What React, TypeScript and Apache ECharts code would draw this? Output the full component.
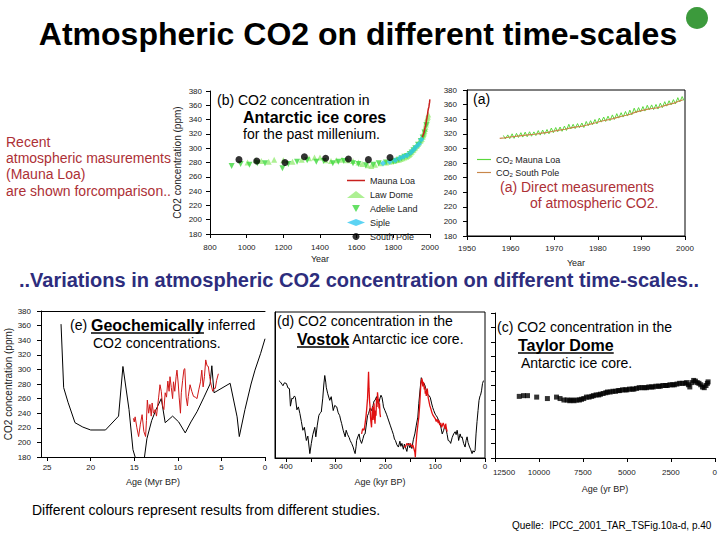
import React, { useEffect, useRef } from "react";
import * as echarts from "echarts";

const FF = '"Liberation Sans", Arial, sans-serif';

// ---------- (b) ice cores of the past millennium ----------
const lawDome: number[][] = [
  [1005, 280], [1050, 283], [1080, 282], [1120, 281], [1150, 284], [1200, 283], [1250, 281], [1300, 284],
  [1340, 286], [1370, 287], [1400, 287], [1430, 283], [1460, 282], [1490, 283], [1520, 284], [1550, 283],
  [1580, 282], [1610, 280], [1630, 278], [1660, 276], [1680, 275], [1700, 277], [1730, 279], [1760, 280],
  [1780, 281], [1800, 282], [1810, 283], [1820, 284], [1830, 284], [1840, 285], [1850, 286], [1860, 287],
  [1870, 288], [1875, 289], [1880, 290], [1885, 291], [1890, 292], [1895, 294], [1900, 295], [1905, 297],
  [1910, 298], [1915, 300], [1920, 301], [1925, 303], [1930, 304], [1935, 306], [1940, 308], [1945, 310],
  [1950, 311], [1955, 313], [1960, 316], [1963, 318], [1965, 320], [1968, 322], [1970, 324], [1973, 327],
  [1975, 330], [1978, 333], [1980, 336], [1983, 339], [1985, 342], [1988, 344], [1990, 347],
];
const adelieLand: number[][] = [
  [918, 275], [967, 278], [1015, 277], [1058, 279], [1100, 279], [1195, 272], [1227, 278], [1275, 281],
  [1330, 283], [1380, 281], [1420, 282], [1470, 279], [1500, 281], [1530, 282], [1580, 279], [1610, 278],
  [1650, 276], [1690, 277], [1720, 279], [1760, 280], [1800, 281], [1815, 282], [1830, 284], [1845, 286],
  [1860, 288], [1875, 289], [1890, 292], [1900, 294], [1910, 297], [1920, 300], [1935, 305], [1950, 310],
  [1960, 315], [1970, 322], [1980, 332],
];
const siple: number[][] = [
  [1744, 279], [1780, 281], [1810, 283], [1835, 286], [1855, 288], [1875, 290], [1895, 294], [1910, 298],
  [1925, 302], [1940, 306], [1953, 312],
];
const southPoleCore: number[][] = [
  [958, 284], [1055, 282], [1209, 280], [1315, 288], [1431, 286], [1555, 285], [1664, 284], [1782, 287],
];

// ---------- (a) direct measurements ----------
const mloYears = [
  1958, 1959, 1960, 1961, 1962, 1963, 1964, 1965, 1966, 1967, 1968, 1969, 1970, 1971, 1972, 1973, 1974,
  1975, 1976, 1977, 1978, 1979, 1980, 1981, 1982, 1983, 1984, 1985, 1986, 1987, 1988, 1989, 1990, 1991,
  1992, 1993, 1994, 1995, 1996, 1997, 1998, 1999,
];
const mloMean = [
  315.3, 316.0, 316.9, 317.6, 318.5, 319.0, 319.6, 320.0, 321.3, 322.2, 323.0, 324.6, 325.7, 326.3, 327.5,
  329.7, 330.2, 331.1, 332.0, 333.8, 335.4, 336.8, 338.7, 339.9, 341.1, 342.8, 344.4, 345.9, 347.2, 348.9,
  351.5, 352.9, 354.2, 355.6, 356.4, 357.1, 358.8, 360.8, 362.6, 363.7, 366.7, 368.4,
];
const mloPeak = [
  317.7, 318.5, 320.0, 320.6, 321.5, 322.3, 322.8, 322.6, 324.4, 325.1, 325.9, 327.9, 328.6, 329.3, 330.6,
  333.0, 333.0, 334.0, 334.8, 336.9, 338.0, 339.6, 341.5, 343.0, 344.2, 345.9, 347.6, 348.9, 350.6, 352.4,
  355.1, 355.9, 357.3, 359.1, 359.6, 360.2, 362.0, 364.0, 365.3, 366.8, 369.5, 371.0,
];
const mloTrough = [
  312.9, 313.4, 313.8, 315.0, 315.5, 316.0, 316.7, 317.6, 318.2, 319.3, 320.0, 321.5, 322.8, 323.4, 324.6,
  326.6, 327.1, 328.4, 328.6, 331.0, 332.5, 333.5, 336.0, 336.9, 338.0, 339.6, 341.5, 342.9, 344.3, 346.0,
  348.5, 349.8, 351.1, 352.8, 353.1, 353.9, 355.8, 357.9, 359.5, 360.8, 363.6, 365.3,
];
const spoYears = [
  1957, 1958, 1959, 1960, 1961, 1962, 1963, 1964, 1965, 1966, 1967, 1968, 1969, 1970, 1971, 1972, 1973,
  1974, 1975, 1976, 1977, 1978, 1979, 1980, 1981, 1982, 1983, 1984, 1985, 1986, 1987, 1988, 1989, 1990,
  1991, 1992, 1993, 1994, 1995, 1996, 1997, 1998, 1999,
];
const spoValues = [
  313.8, 314.5, 315.3, 316.0, 316.8, 317.5, 318.2, 318.9, 319.4, 320.3, 321.2, 322.0, 323.2, 324.4, 325.3,
  326.2, 327.8, 328.9, 329.7, 330.6, 332.1, 333.7, 335.1, 336.9, 338.2, 339.4, 340.8, 342.5, 344.0, 345.4,
  347.0, 349.3, 351.0, 352.4, 353.8, 354.7, 355.6, 357.0, 359.0, 360.7, 362.0, 364.6, 366.4,
];

// ---------- (e) geochemically inferred (Myr BP) ----------
const geoBlack: number[][] = [
  [23.4, 362], [23.1, 275], [22.6, 255], [21.8, 227], [20.9, 221], [20.0, 217], [18.3, 217], [16.8, 236],
  [16.3, 304], [15.6, 245], [15.15, 190], [14.6, 168], [13.85, 178], [13.55, 205], [13.0, 230], [12.5, 245],
  [11.9, 260], [11.45, 227], [10.6, 236], [9.9, 228], [9.15, 213], [8.5, 228], [7.8, 242], [7.0, 262],
  [6.3, 280], [6.1, 305], [5.85, 268], [4.0, 281], [3.2, 235], [2.95, 208], [2.3, 245], [1.6, 280],
  [1.15, 299], [0.5, 322], [0, 342],
];
const geoRed: number[][] = [
  [15.1, 233], [15.0, 228], [14.9, 235], [14.7, 220], [14.5, 208], [14.3, 225], [14.1, 238], [13.9, 215],
  [13.7, 208], [13.6, 230], [13.5, 258], [13.35, 240], [13.2, 252], [13.05, 236], [12.95, 254], [12.8, 240],
  [12.6, 245], [12.45, 236], [12.2, 262], [12.05, 279], [11.9, 270], [11.75, 250], [11.6, 245], [11.45, 268],
  [11.3, 262], [11.15, 284], [11.0, 270], [10.9, 290], [10.75, 275], [10.6, 260], [10.5, 283], [10.35, 270],
  [10.2, 290], [10.1, 299], [9.95, 280], [9.85, 262], [9.7, 240], [9.6, 268], [9.45, 285], [9.3, 300],
  [9.2, 301], [9.05, 262], [8.9, 250], [8.8, 263], [8.6, 279], [8.4, 270], [8.2, 263], [8.0, 262],
  [7.8, 260], [7.6, 272], [7.4, 283], [7.25, 299], [7.1, 276], [6.95, 290], [6.8, 313], [6.65, 305],
  [6.5, 304], [6.35, 290], [6.2, 280], [6.0, 270], [5.85, 274], [5.7, 274], [5.55, 285], [5.35, 294],
];

// ---------- (d) Vostok (kyr BP) ----------
const vostokBlack: number[][] = [
  [414, 286], [411, 284], [408, 281], [406, 279], [403, 283], [399, 282], [396, 276], [393, 275], [391, 251],
  [388, 262], [386, 261], [383, 265], [381, 263], [378, 246], [375, 250], [372, 241], [369, 230], [366, 218],
  [363, 222], [359, 204], [356, 210], [352, 186], [349, 200], [346, 212], [342, 222], [340, 209], [337, 225],
  [334, 238], [332, 241], [329, 243], [326, 262], [324, 280], [322, 293], [320, 284], [319, 277], [316, 268],
  [312, 259], [309, 264], [305, 245], [302, 252], [298, 250], [295, 242], [292, 238], [290, 232], [288, 227],
  [285, 218], [281, 209], [279, 218], [276, 212], [273, 208], [271, 204], [268, 200], [265, 195], [263, 190],
  [261, 186], [259, 196], [258, 204], [255, 210], [253, 213], [251, 205], [248, 200], [245, 207], [243, 212],
  [241, 213], [238, 228], [236, 238], [234, 241], [231, 248], [228, 245], [225, 252], [223, 258], [221, 259],
  [218, 264], [216, 257], [214, 254], [211, 262], [209, 266], [207, 263], [205, 255], [204, 250], [201, 245],
  [198, 240], [196, 236], [194, 232], [190, 224], [187, 218], [184, 212], [182, 206], [180, 204], [177, 198],
  [174, 195], [171, 203], [169, 196], [167, 200], [164, 192], [162, 199], [160, 195], [157, 189], [155, 197],
  [154, 200], [151, 194], [149, 198], [147, 193], [144, 205], [141, 213], [138, 225], [135, 236], [133, 255],
  [130, 277], [128, 290], [127, 286], [124, 284], [121, 280], [119, 275], [116, 268], [113, 266], [110, 263],
  [107, 254], [105, 249], [103, 245], [100, 240], [98, 238], [96, 236], [93, 231], [90, 227], [88, 220],
  [86, 213], [83, 218], [81, 224], [79, 222], [76, 212], [74, 204], [71, 203], [69, 200], [66, 208], [63, 213],
  [60, 216], [58, 212], [56, 218], [54, 210], [53, 204], [50, 213], [48, 208], [46, 209], [43, 200], [40, 195],
  [38, 204], [36, 209], [34, 201], [31, 195], [29, 192], [26, 186], [24, 190], [22, 188], [20, 190], [18, 213],
  [16, 230], [14, 245], [12, 259], [10, 265], [9, 266], [7, 272], [5, 282], [4, 284], [3, 286],
];
const vostokRedA: number[][] = [
  [248, 213], [246, 220], [243, 218], [241, 227], [239, 238], [238, 245], [236, 262], [235, 280], [234, 298],
  [233, 275], [232, 258], [231, 250], [230, 235], [229, 228], [228, 222], [227, 240], [226, 250], [225, 232],
  [224, 241], [223, 255], [222, 235], [221, 227], [220, 245], [219, 238], [218, 262], [217, 250], [216, 270],
  [215, 262], [214, 259], [213, 248], [212, 255], [211, 241], [210, 236],
];
const vostokRedB: number[][] = [
  [163, 196], [160, 195], [157, 200], [154, 198], [150, 200], [147, 195], [145, 198], [143, 193], [141, 188],
  [140, 181], [139, 195], [137, 213], [135, 225], [133, 236], [131, 255], [130, 268], [129, 280], [128, 285],
  [127, 289], [126, 286], [125, 278], [124, 284], [123, 282], [122, 274], [121, 278], [120, 268], [119, 272],
  [118, 265], [117, 272], [116, 275], [115, 268], [114, 262], [113, 259], [111, 252], [109, 248], [107, 243],
  [106, 241], [104, 238], [102, 236], [100, 234], [98, 230], [96, 233], [94, 228], [93, 232], [91, 225],
  [89, 228], [87, 222], [86, 222], [84, 228], [82, 224], [80, 220], [79, 227], [78, 222], [77, 219], [76, 216],
];

// ---------- (c) Taylor Dome (yr BP) ----------
const taylorDome: number[][] = [
  [11120, 265], [10880, 266], [10650, 266], [10130, 264], [9520, 262], [9000, 264], [8800, 262], [8580, 260],
  [8400, 260], [8250, 259], [8140, 260], [8000, 259], [7860, 260], [7700, 260], [7580, 261], [7450, 262],
  [7300, 264], [7150, 264], [7000, 265], [6900, 266], [6750, 267], [6600, 267], [6500, 268], [6350, 269],
  [6200, 270], [6100, 271], [5950, 271], [5800, 272], [5650, 272], [5500, 273], [5400, 273], [5250, 274],
  [5100, 274], [5000, 274], [4850, 275], [4700, 275], [4600, 275], [4450, 276], [4300, 277], [4150, 277],
  [4000, 277], [3880, 277], [3750, 278], [3600, 278], [3500, 278], [3350, 279], [3200, 279], [3100, 279],
  [2950, 280], [2800, 280], [2700, 280], [2550, 281], [2400, 281], [2300, 281], [2150, 282], [2000, 283],
  [1850, 283], [1700, 283], [1600, 284], [1500, 281], [1420, 278], [1300, 284], [1200, 287], [1100, 286],
  [1000, 284], [900, 283], [800, 281], [700, 278], [600, 277], [500, 280], [420, 283], [380, 285],
];

const RED_TEXT = "#ad3036";
const LINE_ICON = "path://M0,0 L24,0 L24,2 L0,2 Z";

function measure(text: string, font: string): number {
  const ctx = document.createElement("canvas").getContext("2d");
  if (!ctx) return text.length * 7;
  ctx.font = font;
  return ctx.measureText(text).width;
}

const fontOf = (size: number, bold = false) => `${bold ? "bold " : ""}${size}px ${FF}`;

function txt(text: string, x: number, y: number, size: number, opts: { bold?: boolean; color?: string; align?: string } = {}) {
  const align = opts.align || "left";
  return {
    type: "text",
    x,
    y,
    z: 20,
    silent: true,
    style: {
      text,
      font: fontOf(size, opts.bold),
      fill: opts.color || "#000",
      align,
      verticalAlign: "middle",
      textAlign: align,
      textVerticalAlign: "middle",
    },
  };
}

function underline(x: number, y: number, w: number) {
  return {
    type: "line",
    z: 20,
    silent: true,
    shape: { x1: x, y1: y, x2: x + w, y2: y },
    style: { stroke: "#000", lineWidth: 1.5 },
  };
}

const plain = (v: number) => String(v);

const axisCommon = (labelMargin: number) => ({
  axisLine: { show: true, onZero: false, lineStyle: { color: "#000", width: 1 } },
  axisTick: { show: true, length: 4, lineStyle: { color: "#000" } },
  axisLabel: { color: "#222", fontSize: 8, fontFamily: FF, margin: labelMargin, formatter: plain },
  splitLine: { show: false },
  nameTextStyle: { color: "#222", fontSize: 9, fontFamily: FF },
});

export default function App() {
  const ref = useRef<HTMLDivElement>(null);

  useEffect(() => {
    if (!ref.current) return;
    const chart = echarts.init(ref.current, null, { renderer: "svg" });

    const mloSeasonal: number[][] = [];
    mloYears.forEach((y, i) => {
      mloSeasonal.push([y + 0.35, mloPeak[i]]);
      mloSeasonal.push([y + 0.8, mloTrough[i]]);
    });
    const mloAnnual = mloYears.map((y, i) => [y + 0.5, mloMean[i]]);
    const spoLine = spoYears.map((y, i) => [y + 0.5, spoValues[i]]);

    // graphic texts
    const g: any[] = [];
    g.push(txt("Atmospheric CO2 on different time-scales", 358, 34, 32, { bold: true, align: "center" }));
    g.push({ type: "circle", z: 20, silent: true, shape: { cx: 697, cy: 18, r: 11 }, style: { fill: "#3c9a3c" } });

    g.push(txt("Recent", 6, 142, 14, { color: RED_TEXT }));
    g.push(txt("atmospheric masurements", 6, 158, 14, { color: RED_TEXT }));
    g.push(txt("(Mauna Loa)", 6, 174, 14, { color: RED_TEXT }));
    g.push(txt("are shown forcomparison..", 6, 191, 14, { color: RED_TEXT }));

    g.push(txt("(b) CO2 concentration in", 217, 100, 14));
    g.push(txt("Antarctic ice cores", 243, 117, 16, { bold: true }));
    g.push(txt("for the past millenium.", 243, 134, 14));

    g.push(txt("(a)", 473, 99, 14));
    g.push(txt("(a) Direct measurements", 500, 187, 14, { color: RED_TEXT }));
    g.push(txt("of atmospheric CO2.", 530, 203, 14, { color: RED_TEXT }));

    g.push(txt("..Variations in atmospheric CO2 concentration on different time-scales..", 359, 280, 20, { bold: true, color: "#2d2d7d", align: "center" }));

    // (e)
    let x = 70;
    g.push(txt("(e) ", x, 325, 14));
    x += measure("(e) ", fontOf(14));
    const wGeo = measure("Geochemically", fontOf(16, true));
    g.push(txt("Geochemically", x, 325, 16, { bold: true }));
    g.push(underline(x, 333, wGeo));
    x += wGeo;
    g.push(txt(" inferred", x, 325, 14));
    g.push(txt("CO2 concentrations.", 93, 343, 14));

    // (d)
    g.push(txt("(d) CO2 concentration in the", 277, 321, 14));
    const wVos = measure("Vostok", fontOf(16, true));
    g.push(txt("Vostok", 297, 339, 16, { bold: true }));
    g.push(underline(297, 347, wVos));
    g.push(txt(" Antarctic ice core.", 297 + wVos, 339, 14));

    // (c)
    g.push(txt("(c) CO2 concentration in the", 497, 327, 14));
    const wTay = measure("Taylor Dome", fontOf(16, true));
    g.push(txt("Taylor Dome", 518, 345, 16, { bold: true }));
    g.push(underline(518, 353, wTay));
    g.push(txt("Antarctic ice core.", 521, 363, 14));

    g.push(txt("Different colours represent results from different studies.", 32, 510, 14));
    g.push(txt("Quelle:  IPCC_2001_TAR_TSFig.10a-d, p.40", 512, 525, 10));

    const yCommon = (grid: number, margin: number) => ({
      type: "value",
      gridIndex: grid,
      min: 180,
      max: 380,
      interval: 20,
      ...axisCommon(margin),
    });

    const option: any = {
      animation: false,
      backgroundColor: "#fff",
      textStyle: { fontFamily: FF },
      grid: [
        { left: 210, top: 91, width: 220, height: 143 },
        { left: 467, top: 90, width: 218, height: 146, show: true, borderColor: "#000", borderWidth: 1 },
        { left: 41, top: 311, width: 224, height: 146 },
        { left: 275, top: 312, width: 210, height: 146, show: true, borderColor: "#000", borderWidth: 1 },
        { left: 495, top: 313, width: 220, height: 145 },
      ],
      xAxis: [
        { type: "value", gridIndex: 0, min: 800, max: 2000, interval: 200, name: "Year", nameLocation: "middle", nameGap: 20, ...axisCommon(9) },
        { type: "value", gridIndex: 1, min: 1950, max: 2000, interval: 10, name: "Year", nameLocation: "middle", nameGap: 22, ...axisCommon(8) },
        {
          type: "value", gridIndex: 2, min: 0, max: 25.7, interval: 5, inverse: true,
          name: "Age (Myr BP)", nameLocation: "middle", nameGap: 20, ...axisCommon(6),
          axisLabel: { color: "#222", fontSize: 8, fontFamily: FF, margin: 6, showMaxLabel: false, formatter: plain },
        },
        {
          type: "value", gridIndex: 2, min: 0, max: 25.7, inverse: true, position: "top",
          axisLine: { show: true, onZero: false, lineStyle: { color: "#000", width: 1 } },
          axisTick: { show: false }, axisLabel: { show: false }, splitLine: { show: false },
        },
        {
          type: "value", gridIndex: 3, min: 0, max: 422, interval: 50, inverse: true,
          name: "Age (kyr BP)", nameLocation: "middle", nameGap: 19, ...axisCommon(4),
          axisLabel: {
            color: "#222", fontSize: 8, fontFamily: FF, margin: 4, showMaxLabel: false,
            formatter: (v: number) => (v % 100 === 0 ? String(v) : ""),
          },
        },
        {
          type: "value", gridIndex: 4, min: 0, max: 12500, interval: 2500, inverse: true,
          name: "Age (yr BP)", nameLocation: "middle", nameGap: 26, ...axisCommon(10),
          axisLabel: {
            color: "#222", fontSize: 8, fontFamily: FF, margin: 10,
            formatter: (v: number) => (v === 12500 ? "{l|12500}" : String(v)),
            rich: { l: { fontSize: 8, fontFamily: FF, color: "#222", padding: [0, 0, 0, 18] } },
          },
        },
      ],
      yAxis: [
        { ...yCommon(0, 8), name: "CO2 concentration (ppm)", nameLocation: "middle", nameGap: 28, nameTextStyle: { color: "#222", fontSize: 10, fontFamily: FF } },
        yCommon(1, 10),
        { ...yCommon(2, 10), name: "CO2 concentration (ppm)", nameLocation: "middle", nameGap: 26, nameTextStyle: { color: "#222", fontSize: 10, fontFamily: FF } },
        { ...yCommon(3, 8), axisTick: { show: false }, axisLabel: { show: false } },
        { ...yCommon(4, 8), axisLabel: { show: false } },
      ],
      legend: [
        {
          orient: "vertical", left: 347, top: 176, padding: 0, itemGap: 5, itemWidth: 18, itemHeight: 7,
          data: [
            { name: "Mauna Loa", icon: LINE_ICON },
            { name: "Law Dome" },
            { name: "Adelie Land" },
            { name: "Siple" },
            { name: "South Pole" },
          ],
          textStyle: { fontSize: 9, color: "#222", fontFamily: FF },
          selectedMode: false,
        },
        {
          orient: "vertical", left: 477, top: 155, padding: 0, itemGap: 3, itemWidth: 14, itemHeight: 7,
          data: [
            { name: "CO2 Mauna Loa", icon: LINE_ICON },
            { name: "CO2 South Pole", icon: LINE_ICON },
          ],
          formatter: (name: string) => name.replace("CO2", "CO{s|2}"),
          textStyle: { fontSize: 9, color: "#222", fontFamily: FF, rich: { s: { fontSize: 6, fontFamily: FF, color: "#222", padding: [5, 0, 0, 0] } } },
          selectedMode: false,
        },
      ],
      series: [
        // (b)
        { name: "Law Dome", type: "scatter", xAxisIndex: 0, yAxisIndex: 0, data: lawDome, symbol: "triangle", symbolSize: 6, itemStyle: { color: "#98ec78" } },
        { name: "Adelie Land", type: "scatter", xAxisIndex: 0, yAxisIndex: 0, data: adelieLand, symbol: "path://M0,0 L10,0 L5,9 Z", symbolSize: 6, itemStyle: { color: "#3fd83f" } },
        { name: "Siple", type: "scatter", xAxisIndex: 0, yAxisIndex: 0, data: siple, symbol: "diamond", symbolSize: 6, itemStyle: { color: "#33c8f0" } },
        { name: "South Pole", type: "scatter", xAxisIndex: 0, yAxisIndex: 0, data: southPoleCore, symbol: "circle", symbolSize: 7, itemStyle: { color: "#000" } },
        { name: "Mauna Loa", type: "line", xAxisIndex: 0, yAxisIndex: 0, data: mloAnnual, symbol: "none", lineStyle: { color: "#c8201e", width: 1.5 }, itemStyle: { color: "#c8201e" } },
        // (a)
        { name: "CO2 Mauna Loa", type: "line", xAxisIndex: 1, yAxisIndex: 1, data: mloSeasonal, symbol: "none", lineStyle: { color: "#5ad83c", width: 1 }, itemStyle: { color: "#5ad83c" } },
        { name: "CO2 South Pole", type: "line", xAxisIndex: 1, yAxisIndex: 1, data: spoLine, symbol: "none", lineStyle: { color: "#c8874a", width: 1.2 }, itemStyle: { color: "#c8874a" } },
        // (e)
        { name: "geoBlack", type: "line", xAxisIndex: 2, yAxisIndex: 2, data: geoBlack, symbol: "none", lineStyle: { color: "#000", width: 1 } },
        { name: "geoRed", type: "line", xAxisIndex: 2, yAxisIndex: 2, data: geoRed, symbol: "none", lineStyle: { color: "#d01818", width: 1 } },
        // (d)
        { name: "vostokBlack", type: "line", xAxisIndex: 4, yAxisIndex: 3, data: vostokBlack, symbol: "none", lineStyle: { color: "#000", width: 1 } },
        { name: "vostokRedA", type: "line", xAxisIndex: 4, yAxisIndex: 3, data: vostokRedA, symbol: "none", lineStyle: { color: "#e01010", width: 1.3 } },
        { name: "vostokRedB", type: "line", xAxisIndex: 4, yAxisIndex: 3, data: vostokRedB, symbol: "none", lineStyle: { color: "#e01010", width: 1.3 } },
        // (c)
        { name: "taylorDome", type: "scatter", xAxisIndex: 5, yAxisIndex: 4, data: taylorDome, symbol: "rect", symbolSize: 5, itemStyle: { color: "#000" } },
      ],
      graphic: { elements: g },
    };

    chart.setOption(option);
    return () => chart.dispose();
  }, []);

  return <div ref={ref} style={{ position: "absolute", left: 0, top: 0, width: 720, height: 540 }} />;
}
